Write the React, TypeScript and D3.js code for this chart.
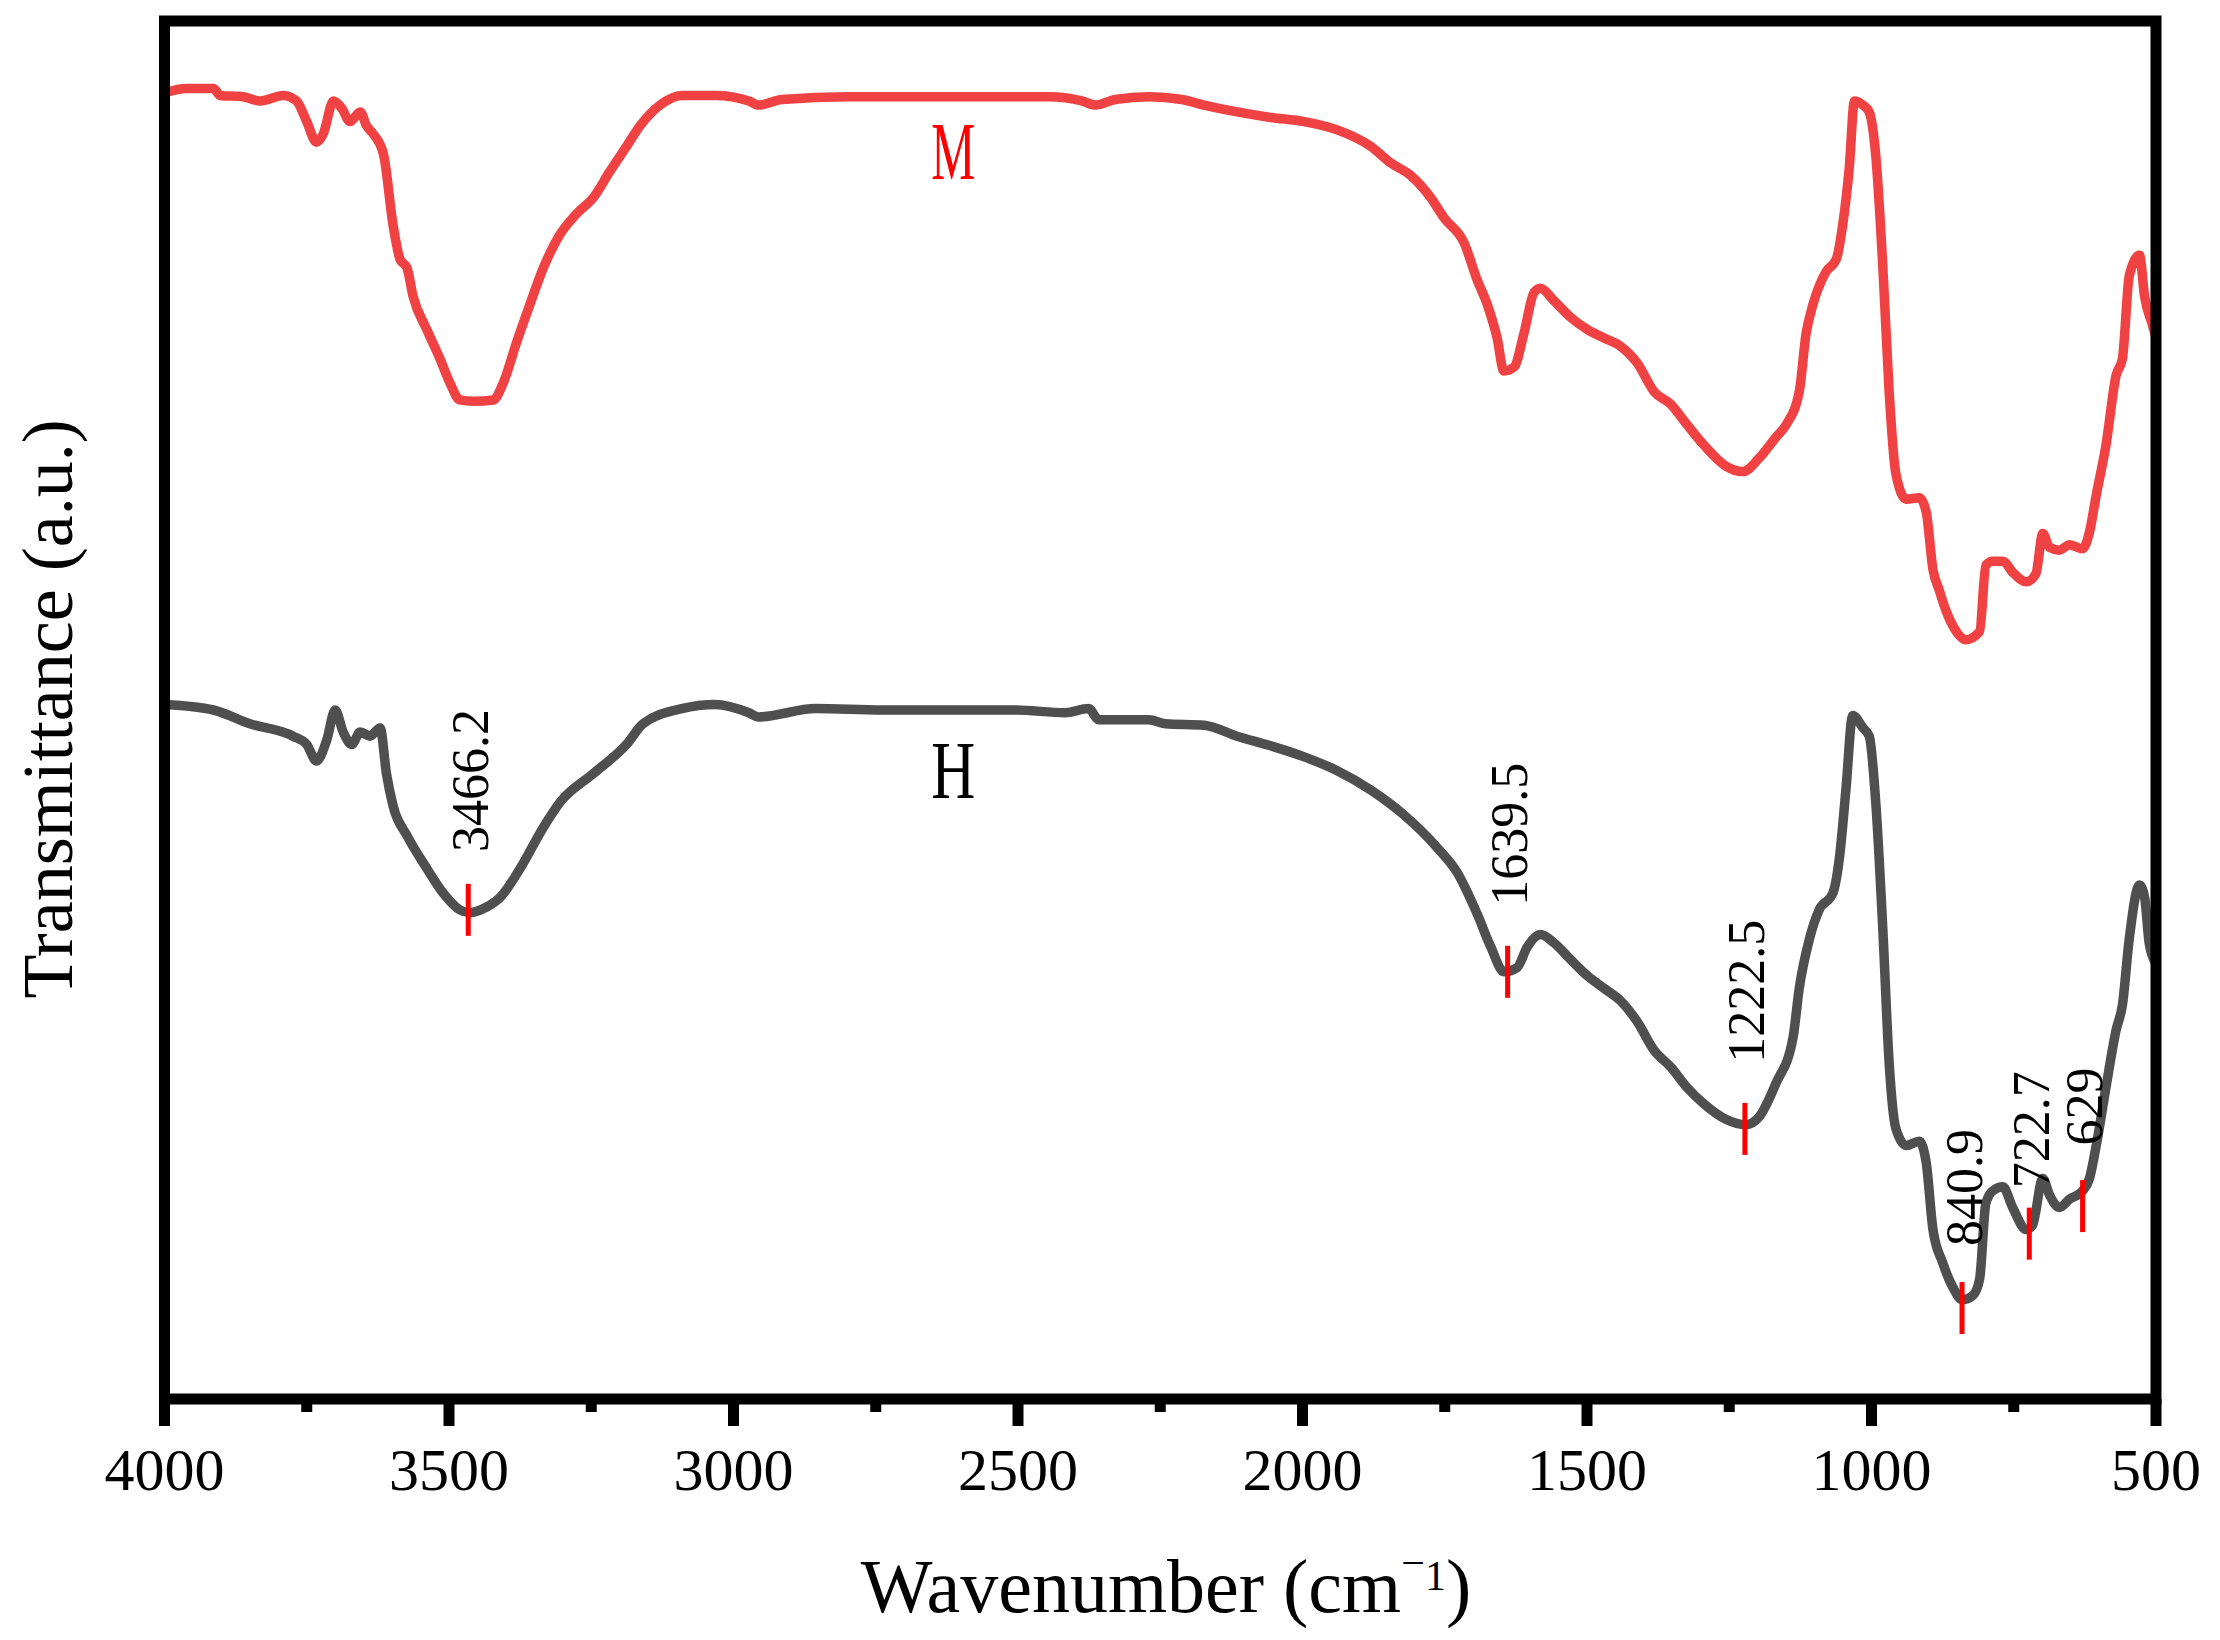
import React, { useEffect } from 'react';
import * as d3 from 'd3';

const xTicksMajor = [4000, 3500, 3000, 2500, 2000, 1500, 1000, 500];
const xTicksMinor = [3750, 3250, 2750, 2250, 1750, 1250, 750];

// [wavenumber, transmittance (a.u.)]
const seriesM: [number, number][] = [
  [3999, 94.8], [3961, 95.1], [3914, 95.1], [3902, 94.6], [3862, 94.5], [3832, 94.2], [3791, 94.6],
  [3768, 94.2], [3750, 92.7], [3733, 91.2], [3721, 91.8], [3703, 94.2], [3689, 93.7], [3674, 92.7],
  [3656, 93.4], [3645, 92.4], [3633, 91.8], [3615, 90.3], [3598, 85.1], [3586, 82.7], [3574, 82.1],
  [3563, 80.0], [3539, 77.6], [3516, 75.5], [3498, 73.7], [3481, 72.5], [3457, 72.4], [3422, 72.5],
  [3405, 73.7], [3381, 76.7], [3358, 79.4], [3334, 82.1], [3305, 84.5], [3276, 86.0], [3246, 87.2],
  [3217, 89.1], [3188, 90.9], [3164, 92.4], [3129, 93.9], [3091, 94.6], [3032, 94.6], [2973, 94.2],
  [2956, 93.9], [2915, 94.3], [2798, 94.5], [2680, 94.5], [2563, 94.5], [2446, 94.5], [2388, 94.2],
  [2364, 93.9], [2329, 94.3], [2270, 94.5], [2212, 94.3], [2173, 93.9], [2115, 93.4], [2056, 93.0],
  [1997, 92.7], [1939, 92.1], [1880, 90.9], [1845, 89.7], [1810, 88.8], [1775, 87.2], [1751, 85.7],
  [1716, 83.9], [1693, 81.2], [1675, 79.4], [1658, 77.0], [1646, 74.6], [1628, 74.9], [1611, 77.3],
  [1593, 80.3], [1582, 80.6], [1558, 79.7], [1529, 78.5], [1499, 77.6], [1470, 77.0], [1441, 76.4],
  [1412, 75.2], [1382, 73.1], [1353, 72.2], [1324, 70.7], [1294, 69.2], [1256, 67.7], [1226, 67.3],
  [1197, 68.3], [1168, 69.8], [1150, 70.7], [1127, 73.1], [1115, 77.3], [1103, 79.4], [1080, 81.8],
  [1062, 82.7], [1051, 85.1], [1039, 89.4], [1030, 94.2], [1015, 93.9], [1004, 93.4], [992, 90.0],
  [980, 82.1], [969, 73.1], [957, 67.1], [939, 65.3], [916, 65.4], [904, 64.4], [892, 60.2],
  [881, 58.7], [869, 57.2], [851, 55.7], [834, 55.1], [810, 55.7], [799, 60.5], [787, 60.8],
  [769, 60.8], [752, 60.0], [728, 59.3], [711, 59.9], [699, 62.8], [687, 61.8], [670, 61.6],
  [652, 62.0], [629, 61.7], [617, 62.9], [605, 65.6], [588, 69.2], [570, 74.3], [559, 75.5],
  [547, 81.5], [529, 83.0], [520, 80.0], [506, 77.9], [500, 77.0],
];

const seriesH: [number, number][] = [
  [3999, 50.4], [3914, 50.0], [3850, 49.0], [3774, 48.1], [3750, 47.5], [3733, 46.3], [3715, 47.8],
  [3700, 50.0], [3686, 48.4], [3671, 47.5], [3656, 48.4], [3639, 48.1], [3621, 48.7], [3610, 45.4],
  [3598, 43.0], [3574, 40.9], [3539, 38.5], [3510, 36.7], [3481, 35.5], [3463, 35.3], [3434, 35.7],
  [3410, 36.4], [3375, 38.5], [3334, 41.5], [3305, 43.3], [3246, 45.4], [3188, 47.5], [3159, 49.0],
  [3091, 50.1], [3032, 50.4], [2973, 49.8], [2956, 49.5], [2856, 50.1], [2739, 50.0], [2622, 50.0],
  [2505, 50.0], [2417, 49.8], [2376, 50.1], [2358, 49.3], [2329, 49.3], [2270, 49.3], [2241, 49.0],
  [2173, 48.9], [2115, 48.1], [2056, 47.4], [1997, 46.6], [1939, 45.6], [1880, 44.2], [1822, 42.4],
  [1763, 40.0], [1728, 38.2], [1693, 35.2], [1669, 32.8], [1646, 31.0], [1623, 31.3], [1605, 32.8],
  [1582, 33.7], [1558, 33.1], [1529, 31.9], [1499, 30.7], [1470, 29.8], [1441, 28.9], [1412, 27.4],
  [1382, 25.3], [1353, 24.1], [1324, 22.6], [1294, 21.4], [1256, 20.3], [1221, 19.9], [1197, 20.5],
  [1168, 22.9], [1138, 26.2], [1127, 29.8], [1109, 33.4], [1092, 35.5], [1068, 36.7], [1056, 39.4],
  [1045, 44.2], [1033, 49.6], [1015, 48.7], [1004, 48.1], [992, 43.0], [980, 34.0], [969, 24.4],
  [957, 19.6], [939, 18.4], [916, 18.7], [904, 17.2], [892, 12.3], [875, 9.9], [857, 8.1],
  [840, 7.2], [822, 7.5], [810, 8.7], [799, 14.2], [787, 15.1], [769, 15.4], [752, 13.9],
  [728, 12.3], [717, 12.6], [699, 16.0], [687, 14.8], [670, 13.9], [652, 14.5], [629, 15.1],
  [617, 16.0], [605, 18.4], [588, 22.6], [570, 26.8], [559, 28.6], [547, 33.4], [529, 37.3],
  [520, 36.4], [512, 33.1], [500, 31.6],
];

const seriesNames = ['M', 'H'];
const seriesColors = ['#f04242', '#4f4f4f'];
const seriesLabelColors = ['#ff0000', '#000000'];
const seriesLabelWn = [2614, 2614];
const seriesLabelV = [88.5, 43.6];

const peakLabels = ['3466.2', '1639.5', '1222.5', '840.9', '722.7', '629'];
const peakWn = [3466.2, 1639.5, 1222.5, 840.9, 722.7, 629];
const peakMarkV = [35.5, 31.0, 19.6, 6.6, 12.0, 14.0];
const peakLabelV = [39.7, 35.8, 24.4, 11.1, 15.3, 18.4];

const FONT = "'Liberation Serif', 'Times New Roman', Times, serif";

export default function App() {
  useEffect(() => {
    document.body.style.margin = '0';
  }, []);

  const W = 2220;
  const Hh = 1640;
  const x = d3.scaleLinear().domain([4000, 500]).range([164.5, 2156]);
  const y = d3.scaleLinear().domain([0, 100]).range([1399, 21]);
  const line = d3
    .line<[number, number]>()
    .x((d) => x(d[0]))
    .y((d) => y(d[1]))
    .curve(d3.curveMonotoneX);

  const series = [seriesM, seriesH];
  const frameBottom = y(0);

  return (
    <svg
      width={W}
      height={Hh}
      viewBox={`0 0 ${W} ${Hh}`}
      style={{ position: 'absolute', left: 0, top: 0, background: '#fff' }}
    >
      <rect x={0} y={0} width={W} height={Hh} fill="#ffffff" />
      {series.map((s, i) => (
        <path
          key={seriesNames[i]}
          d={line(s) || ''}
          fill="none"
          stroke={seriesColors[i]}
          strokeWidth={9.5}
          strokeLinejoin="round"
          strokeLinecap="round"
        />
      ))}
      {seriesNames.map((n, i) => (
        <text
          key={'lab' + n}
          x={x(seriesLabelWn[i])}
          y={y(seriesLabelV[i])}
          fontFamily={FONT}
          fontSize={82}
          fill={seriesLabelColors[i]}
          textAnchor="middle"
          textLength={44}
          lengthAdjust="spacingAndGlyphs"
        >
          {n}
        </text>
      ))}
      {peakWn.map((w, i) => (
        <g key={'pk' + i}>
          <line
            x1={x(w)}
            x2={x(w)}
            y1={y(peakMarkV[i]) - 26}
            y2={y(peakMarkV[i]) + 26}
            stroke="#ff0000"
            strokeWidth={5}
          />
          <text
            transform={`translate(${x(w) + 2},${y(peakLabelV[i])}) rotate(-90)`}
            fontFamily={FONT}
            fontSize={52}
            fill="#000"
            textAnchor="start"
            dominantBaseline="central"
          >
            {peakLabels[i]}
          </text>
        </g>
      ))}
      {/* frame */}
      <rect
        x={x(4000)}
        y={y(100)}
        width={x(500) - x(4000)}
        height={y(0) - y(100)}
        fill="none"
        stroke="#000"
        strokeWidth={11}
      />
      {xTicksMajor.map((t) => (
        <g key={'M' + t}>
          <line x1={x(t)} x2={x(t)} y1={frameBottom} y2={frameBottom + 27} stroke="#000" strokeWidth={11} />
          <text x={x(t)} y={1490} fontFamily={FONT} fontSize={60} textAnchor="middle" fill="#000">
            {t}
          </text>
        </g>
      ))}
      {xTicksMinor.map((t) => (
        <line key={'m' + t} x1={x(t)} x2={x(t)} y1={frameBottom} y2={frameBottom + 13} stroke="#000" strokeWidth={11} />
      ))}
      <text x={1166} y={1612} fontFamily={FONT} fontSize={76} textAnchor="middle" fill="#000">
        Wavenumber (cm
        <tspan fontSize={42} dy={-35}>−</tspan>
        <tspan fontSize={42} dy={13}>1</tspan>
        <tspan dy={22}>)</tspan>
      </text>
      <text
        transform={`translate(72,709) rotate(-90)`}
        fontFamily={FONT}
        fontSize={72}
        textAnchor="middle"
        fill="#000"
      >
        Transmittance (a.u.)
      </text>
    </svg>
  );
}
